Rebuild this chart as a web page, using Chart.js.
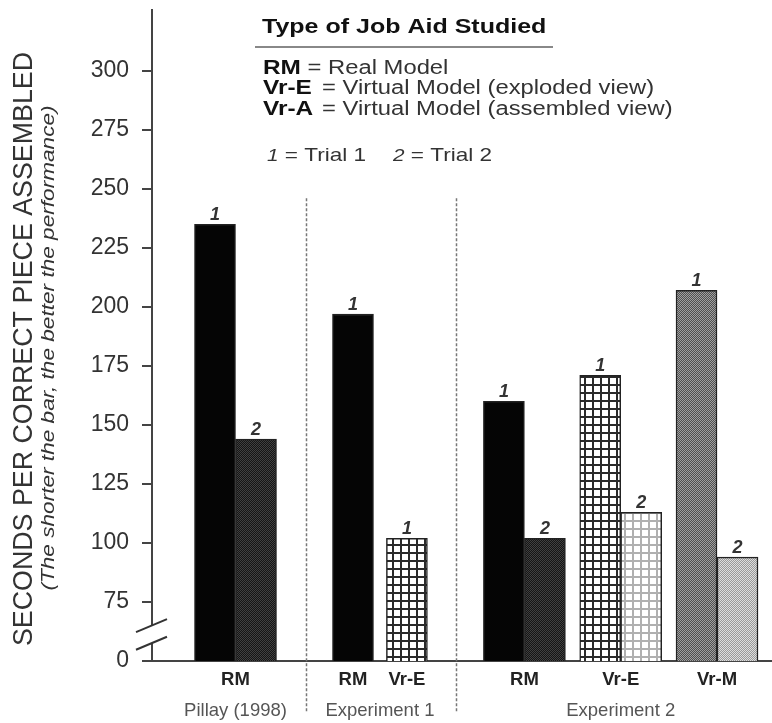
<!DOCTYPE html>
<html>
<head>
<meta charset="utf-8">
<script src="https://cdn.jsdelivr.net/npm/chart.js@4/dist/chart.umd.min.js"></script>
<style>
  body { margin: 0; background: #fff; }
  #wrap { width: 772px; height: 723px; }
</style>
</head>
<body>
<div id="wrap"><canvas id="jobAidChart"></canvas></div>
<script>
// values
const categories = ['RM', 'RM', 'Vr-E', 'RM', 'Vr-E', 'Vr-M'];
const groups = ['Pillay (1998)', 'Experiment 1', 'Experiment 2'];
const trial1 = [235, 197, 102, 160, 171, 207];
const trial2 = [144, null, null, 102, 113, 94];
const trialMarks = ['1', '2'];
const yTicks = [0, 75, 100, 125, 150, 175, 200, 225, 250, 275, 300];

// layout of the category axis (slot centres, group centres, dashed dividers)
const slotPos = [0, 1.22, 1.78, 3, 4, 5];
const groupPos = [0, 1.5, 4];
const dividerPos = [0.73, 2.29];
const Y_BREAK = 50; // axis is broken: "0" sits where 50 would be

const FONT = '"Liberation Sans", Arial, Helvetica, sans-serif';
const SX = 1.22; // the key text in the figure is set wide

// fill patterns
function makePattern(size, draw) {
    const c = document.createElement('canvas');
    c.width = size; c.height = size;
    const g = c.getContext('2d');
    draw(g, size);
    return g.createPattern(c, 'repeat');
}
function checker(a, b) {
    return makePattern(2, (g) => {
        g.fillStyle = a; g.fillRect(0, 0, 2, 2);
        g.fillStyle = b; g.fillRect(0, 0, 1, 1); g.fillRect(1, 1, 1, 1);
    });
}
function gridPat(line) {
    return makePattern(8, (g, s) => {
        g.fillStyle = '#fff'; g.fillRect(0, 0, s, s);
        g.fillStyle = line; g.fillRect(0, 0, 2, s); g.fillRect(0, 0, s, 2);
    });
}
const solid = '#050505';
const darkDots = checker('#151515', '#404040');
const gridDark = gridPat('#2a2a2a');
const gridLight = gridPat('#b0b0b0');
const midDots = checker('#505050', '#a0a0a0');
const lightDots = checker('#999999', '#dddddd');

const fill1 = [solid, solid, gridDark, solid, gridDark, midDots];
const fill2 = [darkDots, null, null, darkDots, gridLight, lightDots];

// draw text stretched horizontally, returns advance in page pixels
function wideText(ctx, text, x, y, font) {
    ctx.save();
    ctx.font = font;
    ctx.scale(SX, 1);
    ctx.fillText(text, x / SX, y);
    const w = ctx.measureText(text).width * SX;
    ctx.restore();
    return w;
}

const extras = {
    id: 'extras',
    afterDatasetsDraw(chart) {
        const ctx = chart.ctx;
        const x = chart.scales.x;
        const y = chart.scales.y;
        const area = chart.chartArea;
        ctx.save();

        // trial numbers above bars
        ctx.fillStyle = '#333';
        ctx.font = 'italic bold 18px ' + FONT;
        ctx.textAlign = 'center';
        ctx.textBaseline = 'alphabetic';
        chart.data.datasets.forEach((ds, i) => {
            chart.getDatasetMeta(i).data.forEach((bar, j) => {
                if (ds.data[j].y == null) return;
                ctx.fillText(trialMarks[i], bar.x, bar.y - 4);
            });
        });

        // dashed dividers between studies
        ctx.strokeStyle = '#777';
        ctx.lineWidth = 1.5;
        ctx.setLineDash([3, 2]);
        dividerPos.forEach(p => {
            const px = Math.round(x.getPixelForValue(p)) + 0.5;
            ctx.beginPath();
            ctx.moveTo(px, y.getPixelForValue(246));
            ctx.lineTo(px, area.bottom + 52);
            ctx.stroke();
        });
        ctx.setLineDash([]);

        // axis break marks
        const ax = area.left;
        const up = y.getPixelForValue(65);
        const lo = y.getPixelForValue(57.5);
        ctx.fillStyle = '#fff';
        ctx.beginPath();
        ctx.moveTo(ax - 6, up + 3); ctx.lineTo(ax + 6, up - 3);
        ctx.lineTo(ax + 6, lo - 3); ctx.lineTo(ax - 6, lo + 3);
        ctx.closePath();
        ctx.fill();
        ctx.strokeStyle = '#333';
        ctx.lineWidth = 2;
        [up, lo].forEach(cy => {
            ctx.beginPath();
            ctx.moveTo(ax - 16, cy + 6.5);
            ctx.lineTo(ax + 15, cy - 6.5);
            ctx.stroke();
        });

        // y axis title, two lines
        ctx.fillStyle = '#333';
        ctx.textAlign = 'center';
        ctx.textBaseline = 'middle';
        ctx.save();
        ctx.translate(25, 349);
        ctx.rotate(-Math.PI / 2);
        ctx.font = '26.8px ' + FONT;
        ctx.fillText('SECONDS PER CORRECT PIECE ASSEMBLED', 0, 0);
        ctx.restore();
        ctx.save();
        ctx.translate(49, 348);
        ctx.rotate(-Math.PI / 2);
        ctx.scale(1.19, 1);
        ctx.font = 'italic 19px ' + FONT;
        ctx.fillText('(The shorter the bar, the better the performance)', 0, 0);
        ctx.restore();

        // key box
        ctx.textAlign = 'left';
        ctx.textBaseline = 'alphabetic';
        ctx.fillStyle = '#111';
        wideText(ctx, 'Type of Job Aid Studied', 262, 33, 'bold 20.5px ' + FONT);
        ctx.strokeStyle = '#888';
        ctx.lineWidth = 2;
        ctx.beginPath();
        ctx.moveTo(255, 47); ctx.lineTo(553, 47);
        ctx.stroke();

        const rows = [
            ['RM', ' = Real Model', 74, null],
            ['Vr-E', '= Virtual Model (exploded view)', 94, 322],
            ['Vr-A', '= Virtual Model (assembled view)', 115, 322]
        ];
        rows.forEach(r => {
            ctx.fillStyle = '#111';
            const w = wideText(ctx, r[0], 263, r[2], 'bold 20px ' + FONT);
            ctx.fillStyle = '#333';
            wideText(ctx, r[1], r[3] == null ? 263 + w : r[3], r[2], '19.5px ' + FONT);
        });

        [[267, '1', ' = Trial 1'], [393, '2', ' = Trial 2']].forEach(t => {
            ctx.fillStyle = '#333';
            const w = wideText(ctx, t[1], t[0], 161, 'italic 17px ' + FONT);
            wideText(ctx, t[2], t[0] + w, 161, '18.5px ' + FONT);
        });

        ctx.restore();
    }
};

const ctx = document.getElementById('jobAidChart').getContext('2d');
new Chart(ctx, {
    type: 'bar',
    data: {
        datasets: [
            {
                label: 'Trial 1',
                data: trial1.map((v, i) => ({ x: slotPos[i], y: v })),
                backgroundColor: fill1,
                borderColor: '#222',
                borderWidth: 1.5,
                skipNull: true
            },
            {
                label: 'Trial 2',
                data: trial2.map((v, i) => ({ x: slotPos[i], y: v })),
                backgroundColor: fill2.map(f => f || '#fff'),
                borderColor: '#222',
                borderWidth: 1.5,
                skipNull: true
            }
        ]
    },
    options: {
        responsive: true,
        maintainAspectRatio: false,
        animation: false,
        barThickness: 41,
        layout: { padding: { top: 10, right: 0, left: 0, bottom: 0 } },
        plugins: {
            legend: { display: false },
            tooltip: { enabled: false }
        },
        scales: {
            x: {
                type: 'linear',
                offset: false,
                min: -0.867,
                max: 5.571,
                weight: 0,
                grid: { display: false, drawTicks: false },
                border: { display: true, color: '#444', width: 2 },
                afterBuildTicks: scale => { scale.ticks = slotPos.map(v => ({ value: v })); },
                afterFit: scale => {
                    scale.height = 36;
                    scale.paddingLeft = 0; scale.paddingRight = 0;
                },
                ticks: {
                    autoSkip: false,
                    maxRotation: 0,
                    padding: 8,
                    color: '#222',
                    font: { family: FONT, size: 18.5, weight: 'bold' },
                    callback: (value, index) => categories[index]
                }
            },
            x2: {
                type: 'linear',
                position: 'bottom',
                offset: false,
                min: -0.867,
                max: 5.571,
                weight: 1,
                grid: { display: false, drawTicks: false },
                border: { display: false },
                afterBuildTicks: scale => { scale.ticks = groupPos.map(v => ({ value: v })); },
                afterFit: scale => {
                    scale.height = 26;
                    scale.paddingLeft = 0; scale.paddingRight = 0;
                },
                ticks: {
                    autoSkip: false,
                    maxRotation: 0,
                    padding: 3,
                    color: '#555',
                    font: { family: FONT, size: 18.5 },
                    callback: (value, index) => groups[index]
                }
            },
            y: {
                min: Y_BREAK,
                max: 325.8,
                grid: {
                    drawOnChartArea: false,
                    drawTicks: true,
                    tickLength: 10,
                    color: '#444',
                    lineWidth: 2
                },
                border: { display: true, color: '#444', width: 2 },
                afterBuildTicks: scale => {
                    scale.ticks = yTicks.map(v => ({ value: v === 0 ? Y_BREAK : v }));
                },
                afterFit: scale => {
                    scale.width = 152;
                    scale.paddingTop = 0; scale.paddingBottom = 0;
                },
                ticks: {
                    padding: 13,
                    color: '#333',
                    font: { family: FONT, size: 23 },
                    callback: (value, index) => String(yTicks[index])
                }
            }
        }
    },
    plugins: [extras]
});
</script>
</body>
</html>
